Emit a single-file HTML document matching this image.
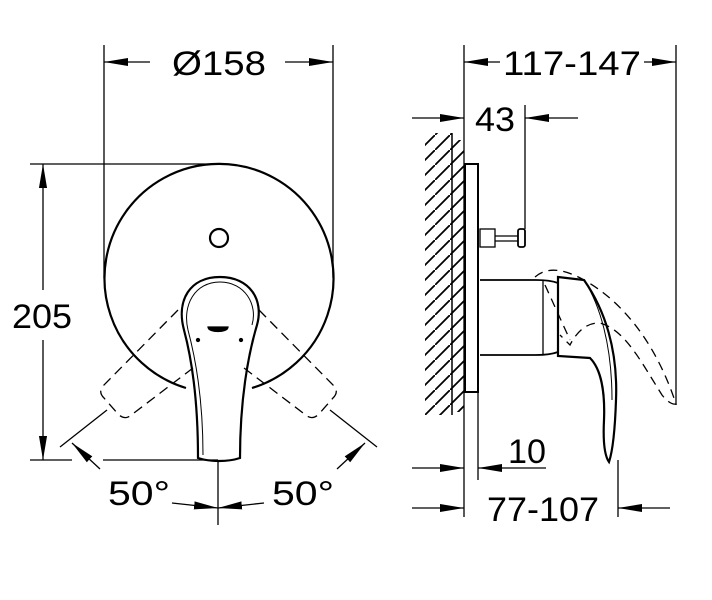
<!DOCTYPE html>
<html><head><meta charset="utf-8"><style>html,body{margin:0;padding:0;background:#fff}svg{display:block}</style></head>
<body>
<svg width="712" height="600" viewBox="0 0 712 600" xmlns="http://www.w3.org/2000/svg" font-family="Liberation Sans, sans-serif" font-size="34">
<defs>
<marker id="a" viewBox="0 0 10 10" refX="10" refY="5" markerWidth="24" markerHeight="9" markerUnits="userSpaceOnUse" orient="auto" preserveAspectRatio="none"><path d="M0,0.5 L10,5 L0,9.5z" fill="#000"/></marker>
<pattern id="h" width="15" height="15" patternUnits="userSpaceOnUse"><path d="M-2,17 L17,-2" stroke="#000" stroke-width="1.8"/></pattern>
</defs>
<g stroke="#000" fill="none" stroke-width="1.3">
<line x1="104" y1="45" x2="104" y2="278"/>
<line x1="333" y1="45" x2="333" y2="278"/>
<line x1="30" y1="164" x2="218" y2="164"/>
<line x1="30" y1="460" x2="72" y2="460"/>
<line x1="103" y1="460" x2="218" y2="460"/>
<line x1="218" y1="460" x2="218" y2="525"/>
<line x1="150" y1="62" x2="104" y2="62" marker-end="url(#a)"/>
<line x1="285" y1="62" x2="333" y2="62" marker-end="url(#a)"/>
<line x1="43" y1="290" x2="43" y2="164" marker-end="url(#a)"/>
<line x1="43" y1="340" x2="43" y2="460" marker-end="url(#a)"/>
<path d="M186,388 A114.5,114.5 0 1 1 252,388" stroke-width="2.2"/>
<circle cx="219" cy="238" r="9" stroke-width="2.2"/>
<path d="M198,458 C198,400 192,360 184,330 C176,300 190,277 220,277 C250,277 264,300 257,325 C248,355 240,400 240,458 C228,462 210,462 198,458 Z" stroke-width="2.2"/>
<path d="M203,455 C203,400 196,360 188,330 C182,305 195,282 220,282 C245,282 258,305 252,325" stroke-width="1"/>
<path d="M208,327 L228,327 C228,333 208,333 208,327Z" fill="#000"/>
<circle cx="198" cy="340" r="1.5" fill="#000"/><circle cx="241" cy="340" r="1.5" fill="#000"/>
<g stroke-dasharray="10,6">
<path d="M178,310 L103,386 Q98,392 104,398 L118,414 Q124,420 130,416 L193,368"/>
<path d="M259,310 L334,386 Q339,392 333,398 L319,414 Q313,420 307,416 L244,368"/>
</g>
<line x1="60" y1="447" x2="107" y2="410"/>
<line x1="377" y1="447" x2="330" y2="410"/>
<line x1="100" y1="469" x2="72" y2="443" marker-end="url(#a)"/>
<line x1="337" y1="469" x2="365" y2="443" marker-end="url(#a)"/>
<line x1="172" y1="503" x2="218" y2="508" marker-end="url(#a)"/>
<line x1="264" y1="503" x2="218" y2="508" marker-end="url(#a)"/>
<rect x="425" y="133" width="27" height="282" fill="url(#h)" stroke="none"/>
<rect x="452" y="140" width="12" height="272" fill="url(#h)" stroke="none"/>
<line x1="452" y1="133" x2="452" y2="415" stroke-width="1.5"/>
<line x1="464" y1="45" x2="464" y2="517"/>
<rect x="465" y="164" width="13" height="228" stroke-width="2"/>
<line x1="478" y1="392" x2="478" y2="480"/>
<rect x="480" y="229" width="15" height="18"/>
<line x1="495" y1="236" x2="518" y2="236"/><line x1="495" y1="241" x2="518" y2="241"/>
<rect x="518" y="229" width="7" height="18" rx="2" stroke-width="1.8"/>
<line x1="525" y1="105" x2="525" y2="229"/>
<line x1="676" y1="45" x2="676" y2="405"/>
<line x1="618" y1="460" x2="618" y2="517"/>
<path d="M480,280 L536,280 Q550,280 558,283 M480,355 L536,355 Q550,355 558,352" stroke-width="1.8"/>
<line x1="543" y1="280" x2="543" y2="355"/>
<path d="M558,277 L584,280 C605,310 618,350 616,400 C615,430 613,450 609,462 C604,455 603,440 604,420 C605,395 602,370 590,358 L558,356 Z" stroke-width="2.2"/>
<path d="M584,280 C600,305 612,345 612,400" stroke-width="1"/>
<g stroke-dasharray="9,6" stroke-width="1.3">
<path d="M535,277 Q552,262 584,280 C620,300 655,340 676,404 Q670,405 662,395 C640,360 625,330 600,323 C585,322 575,335 570,345 L560,335"/>
<path d="M545,285 L570,340"/>
</g>
<line x1="500" y1="62" x2="464" y2="62" marker-end="url(#a)"/>
<line x1="644" y1="62" x2="676" y2="62" marker-end="url(#a)"/>
<line x1="412" y1="118" x2="464" y2="118" marker-end="url(#a)"/>
<line x1="578" y1="118" x2="525" y2="118" marker-end="url(#a)"/>
<line x1="412" y1="468" x2="464" y2="468" marker-end="url(#a)"/>
<line x1="546" y1="468" x2="478" y2="468" marker-end="url(#a)"/>
<line x1="412" y1="508" x2="464" y2="508" marker-end="url(#a)"/>
<line x1="670" y1="508" x2="618" y2="508" marker-end="url(#a)"/>
</g>
<g fill="#000">
<text x="172" y="75" textLength="94" lengthAdjust="spacingAndGlyphs">Ø158</text>
<text x="12" y="328" textLength="60" lengthAdjust="spacingAndGlyphs">205</text>
<text x="108" y="505" textLength="62" lengthAdjust="spacingAndGlyphs">50°</text>
<text x="272" y="505" textLength="62" lengthAdjust="spacingAndGlyphs">50°</text>
<text x="503" y="75" textLength="138" lengthAdjust="spacingAndGlyphs">117-147</text>
<text x="475" y="131" textLength="40" lengthAdjust="spacingAndGlyphs">43</text>
<text x="508" y="463" textLength="38" lengthAdjust="spacingAndGlyphs">10</text>
<text x="487" y="521" textLength="112" lengthAdjust="spacingAndGlyphs">77-107</text>
</g>
</svg>
</body></html>
